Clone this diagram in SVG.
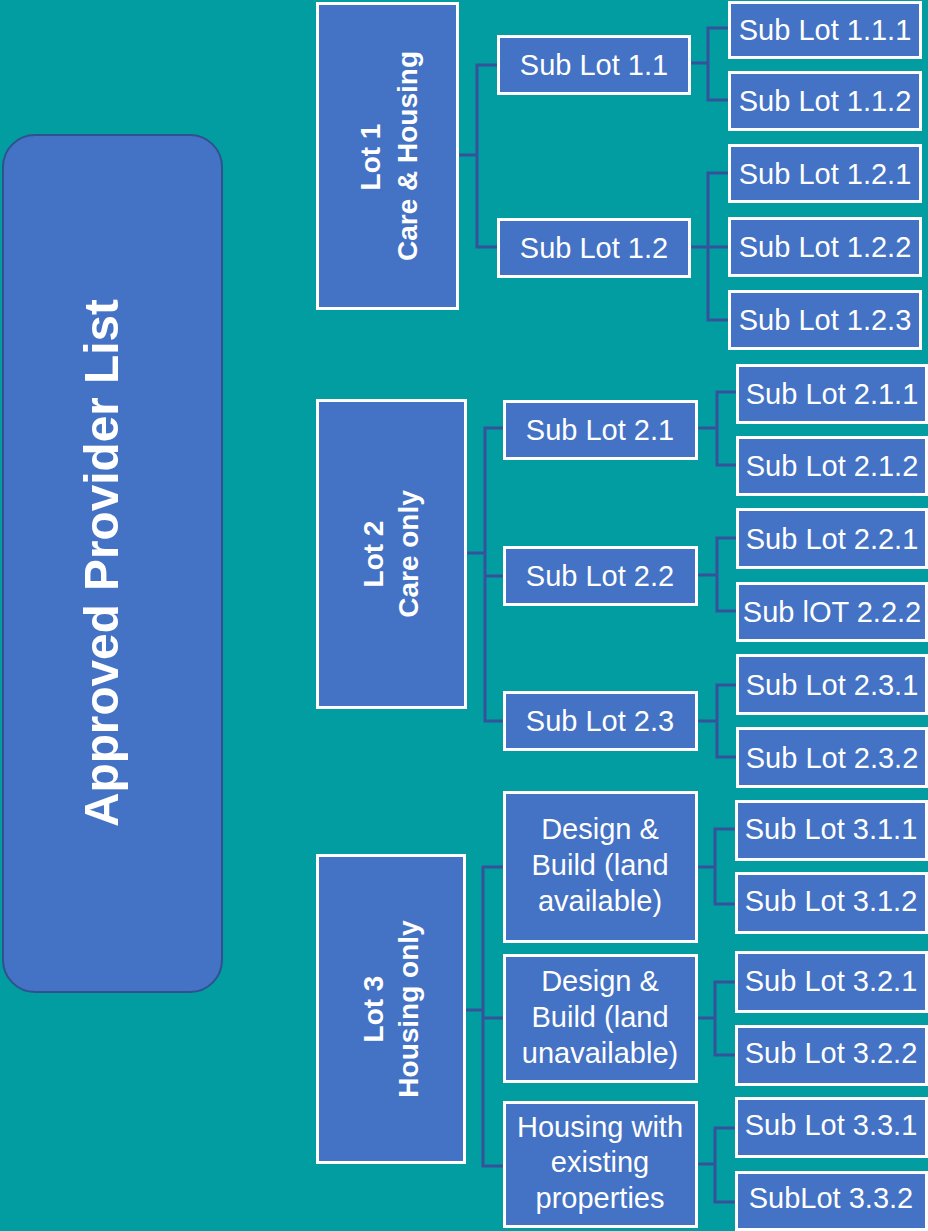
<svg xmlns="http://www.w3.org/2000/svg" width="928" height="1231" viewBox="0 0 928 1231">
<style>
.bx{fill:#4472C4;stroke:#FFFFFF;stroke-width:3}
.t{fill:#FFFFFF;font-family:"Liberation Sans",Arial,sans-serif;font-size:29px;text-anchor:middle}
.tb{fill:#FFFFFF;font-family:"Liberation Sans",Arial,sans-serif;font-size:28px;font-weight:bold;text-anchor:middle}
.c{fill:none;stroke:#35539A;stroke-width:3}
</style>
<rect x="0" y="0" width="928" height="1231" fill="#029DA1"/>
<g id="connectors">
<path class="c" d="M459 155H477M497 65H477V247H497"/>
<path class="c" d="M690 63H708M728 28H708V100H728"/>
<path class="c" d="M690 247H728M728 173H708V320H728"/>
<path class="c" d="M467 553H485M504 428H485V721H504M485 576H504"/>
<path class="c" d="M698 428H717M736 392H717V465H736"/>
<path class="c" d="M698 575H717M736 538H717V611H736"/>
<path class="c" d="M698 721H717M736 685H717V757H736"/>
<path class="c" d="M466 1010H483M503 867H483V1166H503M483 1018H503"/>
<path class="c" d="M698 867H715M735 829H715V904H735"/>
<path class="c" d="M698 1018H715M735 982H715V1055H735"/>
<path class="c" d="M698 1164H715M735 1128H715V1202H735"/>
</g>
<g id="root">
<rect x="3" y="135" width="219" height="857" rx="32" ry="32" fill="#4472C4" stroke="#2F528F" stroke-width="2"/>
<text x="118" y="563" transform="rotate(-90 118 563)" fill="#FFFFFF" font-family="Liberation Sans, Arial, sans-serif" font-size="49" font-weight="bold" text-anchor="middle" textLength="528" lengthAdjust="spacingAndGlyphs">Approved Provider List</text>
</g>
<g id="lot1">
<rect class="bx" x="317.5" y="3.5" width="140" height="305"/>
<text class="tb" transform="rotate(-90 380 157)" x="380" y="157">Lot 1</text>
<text class="tb" transform="rotate(-90 417 156)" x="417" y="156">Care &amp; Housing</text>
</g>
<g id="sub1-1"><rect class="bx" x="498.5" y="36.5" width="191" height="57"/><text class="t" x="594" y="75">Sub Lot 1.1</text></g>
<g id="sub1-2"><rect class="bx" x="498.5" y="219.5" width="191" height="57"/><text class="t" x="594" y="258">Sub Lot 1.2</text></g>
<g id="sub1-1-1"><rect class="bx" x="729.5" y="2.5" width="191" height="55"/><text class="t" x="825" y="40">Sub Lot 1.1.1</text></g>
<g id="sub1-1-2"><rect class="bx" x="729.5" y="72.5" width="191" height="57"/><text class="t" x="825" y="111">Sub Lot 1.1.2</text></g>
<g id="sub1-2-1"><rect class="bx" x="729.5" y="145.5" width="191" height="56"/><text class="t" x="825" y="184">Sub Lot 1.2.1</text></g>
<g id="sub1-2-2"><rect class="bx" x="729.5" y="218.5" width="191" height="57"/><text class="t" x="825" y="257">Sub Lot 1.2.2</text></g>
<g id="sub1-2-3"><rect class="bx" x="729.5" y="291.5" width="191" height="57"/><text class="t" x="825" y="330">Sub Lot 1.2.3</text></g>
<g id="lot2">
<rect class="bx" x="317.5" y="400.5" width="148" height="307"/>
<text class="tb" transform="rotate(-90 383 554)" x="383" y="554">Lot 2</text>
<text class="tb" transform="rotate(-90 418 554)" x="418" y="554">Care only</text>
</g>
<g id="sub2-1"><rect class="bx" x="504.5" y="401.5" width="192" height="57"/><text class="t" x="600" y="440">Sub Lot 2.1</text></g>
<g id="sub2-2"><rect class="bx" x="504.5" y="547.5" width="192" height="57"/><text class="t" x="600" y="586">Sub Lot 2.2</text></g>
<g id="sub2-3"><rect class="bx" x="504.5" y="692.5" width="192" height="57"/><text class="t" x="600" y="731">Sub Lot 2.3</text></g>
<g id="sub2-1-1"><rect class="bx" x="737.5" y="365.5" width="189" height="57"/><text class="t" x="832" y="404">Sub Lot 2.1.1</text></g>
<g id="sub2-1-2"><rect class="bx" x="737.5" y="437.5" width="189" height="57"/><text class="t" x="832" y="476">Sub Lot 2.1.2</text></g>
<g id="sub2-2-1"><rect class="bx" x="737.5" y="509.5" width="189" height="58"/><text class="t" x="832" y="549">Sub Lot 2.2.1</text></g>
<g id="sub2-2-2"><rect class="bx" x="737.5" y="583.5" width="189" height="57"/><text class="t" x="832" y="622">Sub lOT 2.2.2</text></g>
<g id="sub2-3-1"><rect class="bx" x="737.5" y="655.5" width="189" height="58"/><text class="t" x="832" y="695">Sub Lot 2.3.1</text></g>
<g id="sub2-3-2"><rect class="bx" x="737.5" y="728.5" width="189" height="58"/><text class="t" x="832" y="768">Sub Lot 2.3.2</text></g>
<g id="lot3">
<rect class="bx" x="317.5" y="855.5" width="147" height="307"/>
<text class="tb" transform="rotate(-90 383 1009)" x="383" y="1009">Lot 3</text>
<text class="tb" transform="rotate(-90 418 1009)" x="418" y="1009">Housing only</text>
</g>
<g id="sub3-1"><rect class="bx" x="504.5" y="792.5" width="192" height="149"/><text class="t" x="600" y="839">Design &amp;</text><text class="t" x="600" y="875">Build (land</text><text class="t" x="600" y="911">available)</text></g>
<g id="sub3-2"><rect class="bx" x="504.5" y="955.5" width="192" height="126"/><text class="t" x="600" y="991">Design &amp;</text><text class="t" x="600" y="1027">Build (land</text><text class="t" x="600" y="1063">unavailable)</text></g>
<g id="sub3-3"><rect class="bx" x="504.5" y="1102.5" width="192" height="124"/><text class="t" x="600" y="1137">Housing with</text><text class="t" x="600" y="1172">existing</text><text class="t" x="600" y="1208">properties</text></g>
<g id="sub3-1-1"><rect class="bx" x="736.5" y="801.5" width="190" height="58"/><text class="t" x="831" y="839">Sub Lot 3.1.1</text></g>
<g id="sub3-1-2"><rect class="bx" x="736.5" y="873.5" width="190" height="59"/><text class="t" x="831" y="911">Sub Lot 3.1.2</text></g>
<g id="sub3-2-1"><rect class="bx" x="736.5" y="952.5" width="190" height="59"/><text class="t" x="831" y="991">Sub Lot 3.2.1</text></g>
<g id="sub3-2-2"><rect class="bx" x="736.5" y="1026.5" width="190" height="58"/><text class="t" x="831" y="1063">Sub Lot 3.2.2</text></g>
<g id="sub3-3-1"><rect class="bx" x="736.5" y="1098.5" width="190" height="58"/><text class="t" x="831" y="1135">Sub Lot 3.3.1</text></g>
<g id="sub3-3-2"><rect class="bx" x="736.5" y="1172.5" width="190" height="57"/><text class="t" x="831" y="1208">SubLot 3.3.2</text></g>
</svg>
